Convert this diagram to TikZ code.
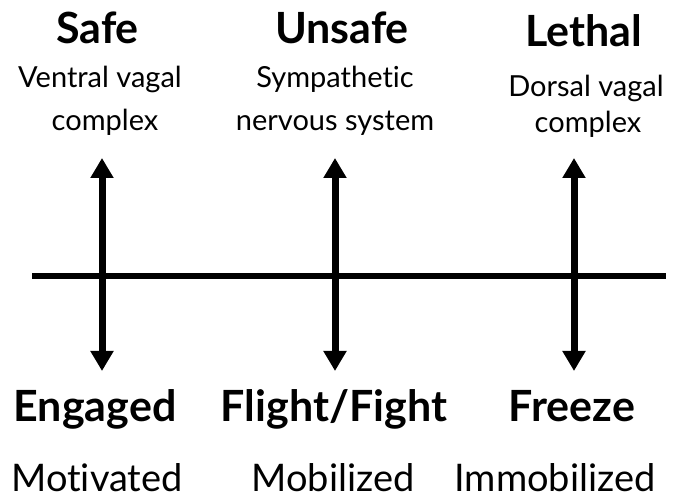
\documentclass[tikz,border=0pt]{standalone}
\usepackage{fontspec}
\setmainfont{Lato}[Ligatures=NoCommon]
\usetikzlibrary{arrows.meta}
\begin{document}
\begin{tikzpicture}[x=1pt,y=-1pt,
  title/.style={anchor=base,font=\fontsize{43}{48}\selectfont\bfseries,inner sep=0pt},
  sub/.style={anchor=base,font=\fontsize{29}{34}\selectfont,inner sep=0pt},
  state/.style={anchor=base,font=\fontsize{43}{48}\selectfont\bfseries,inner sep=0pt},
  mood/.style={anchor=base,font=\fontsize{38}{44}\selectfont,inner sep=0pt},
  axis/.style={line width=6.5pt},
  twoway/.style={line width=7pt,{Triangle[width=22pt,length=20pt]}-{Triangle[width=22pt,length=20pt]}}]
\useasboundingbox (0,0) rectangle (678,502);
% horizontal axis
\coordinate (axL) at (32,276);
\coordinate (axR) at (666,276);
\draw[axis] (axL) -- (axR);
% vertical two-way arrows
\coordinate (t1) at (102,158); \coordinate (b1) at (102,371);
\coordinate (t2) at (335,158); \coordinate (b2) at (335,371);
\coordinate (t3) at (574,158); \coordinate (b3) at (574,371);
\draw[twoway] (t1) -- (b1);
\draw[twoway] (t2) -- (b2);
\draw[twoway] (t3) -- (b3);
% top labels
\node[title] (safe) at (97.5,44) {Safe};
\node[title] (unsafe) at (342,44) {Unsafe};
\node[title] (lethal) at (584,47) {Lethal};
\node[sub] (v1) at (100,88) {Ventral vagal};
\node[sub] (v2) at (105,131) {complex};
\node[sub] (s1) at (335,88) {Sympathetic};
\node[sub] (s2) at (335,131) {nervous system};
\node[sub] (d1) at (586,97) {Dorsal vagal};
\node[sub] (d2) at (588,133) {complex};
% bottom labels
\node[state] (eng) at (95,422) {Engaged};
\node[state] (ff) at (334,422) {Flight/Fight};
\node[state] (frz) at (572,422) {Freeze};
\node[mood] (mot) at (97,492) {Motivated};
\node[mood] (mob) at (333,492) {Mobilized};
\node[mood] (imm) at (555,492) {Immobilized};
\end{tikzpicture}
\end{document}
